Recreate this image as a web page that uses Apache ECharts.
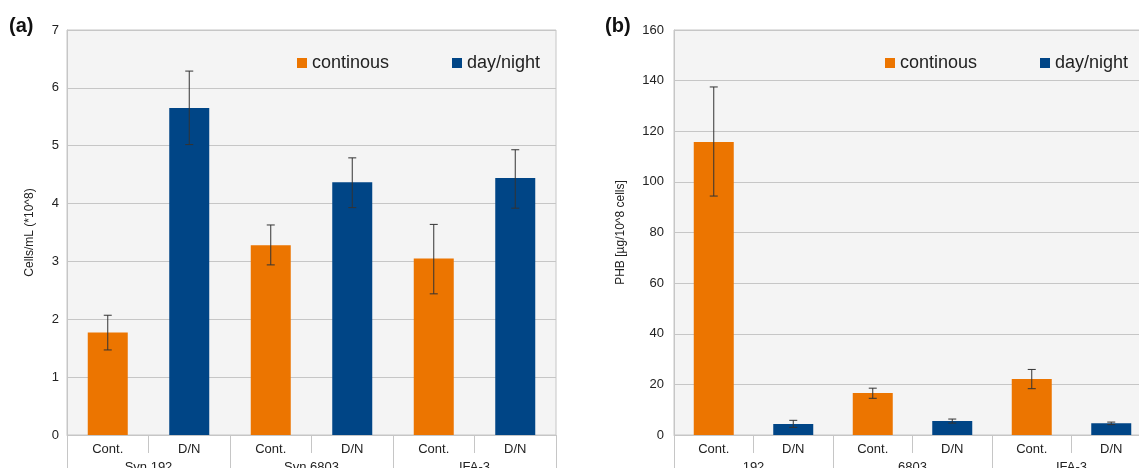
<!DOCTYPE html>
<html><head><meta charset="utf-8">
<script src="https://cdn.jsdelivr.net/npm/echarts@6/dist/echarts.min.js"></script>
<style>html,body{margin:0;padding:0;background:#fff}#c{width:1139px;height:468px}</style>
</head><body><div id="c"></div>
<script>
const innerCats = ['Cont.', 'D/N', 'Cont.', 'D/N', 'Cont.', 'D/N'];
const groupsA = ['Syn.192', 'Syn.6803', 'IFA-3'];
const groupsB = ['192', '6803', 'IFA-3'];
// chart (a) Cells/mL (*10^8)
const aCont = [1.77, null, 3.28, null, 3.05, null];
const aDN = [null, 5.65, null, 4.37, null, 4.44];
const aErrLow = [1.47, 5.02, 2.94, 3.93, 2.44, 3.92];
const aErrHigh = [2.07, 6.29, 3.63, 4.79, 3.64, 4.93];
// chart (b) PHB [µg/10^8 cells]
const bCont = [115.8, null, 16.6, null, 22.1, null];
const bDN = [null, 4.3, null, 5.5, null, 4.6];
const bErrLow = [94.4, 3.0, 14.5, 4.7, 18.3, 4.1];
const bErrHigh = [137.5, 5.8, 18.5, 6.3, 25.9, 5.1];

const ORANGE = '#ec7500', BLUE = '#004586', GRIDC = '#c6c6c6', TXT = '#222';
const FONT = 'Liberation Sans';

function errSeries(xi, yi, lo, hi) {
  return {
    type: 'custom', xAxisIndex: xi, yAxisIndex: yi, z: 10, silent: true,
    data: lo.map((l, i) => [i, l, hi[i]]),
    renderItem: function (params, api) {
      const x = api.value(0);
      const p1 = api.coord([x, api.value(1)]);
      const p2 = api.coord([x, api.value(2)]);
      const w = 4;
      const st = { stroke: '#333', lineWidth: 1 };
      return { type: 'group', children: [
        { type: 'line', shape: { x1: p1[0], y1: p1[1], x2: p2[0], y2: p2[1] }, style: st },
        { type: 'line', shape: { x1: p1[0] - w, y1: p1[1], x2: p1[0] + w, y2: p1[1] }, style: st },
        { type: 'line', shape: { x1: p2[0] - w, y1: p2[1], x2: p2[0] + w, y2: p2[1] }, style: st }
      ]};
    }
  };
}

function innerX(gi) {
  return { type: 'category', gridIndex: gi, data: innerCats, position: 'bottom',
    axisLine: { show: true, lineStyle: { color: GRIDC, width: 1 } },
    axisTick: { show: true, interval: 0, length: 18, lineStyle: { color: GRIDC } },
    axisLabel: { interval: 0, color: TXT, fontFamily: FONT, fontSize: 13, margin: 8 } };
}
function groupX(gi, groups) {
  return { type: 'category', gridIndex: gi, data: groups, position: 'bottom',
    axisLine: { show: false },
    axisTick: { show: true, interval: 0, length: 45, lineStyle: { color: GRIDC } },
    axisLabel: { interval: 0, color: TXT, fontFamily: FONT, fontSize: 13, margin: 26 } };
}
function yAx(gi, max, interval, name, gap, margin) {
  return { type: 'value', gridIndex: gi, min: 0, max: max, interval: interval,
    name: name, nameLocation: 'middle', nameRotate: 90, nameGap: gap,
    nameTextStyle: { color: TXT, fontFamily: FONT, fontSize: 12 },
    axisLine: { show: true, lineStyle: { color: GRIDC } }, axisTick: { show: false },
    axisLabel: { color: TXT, fontFamily: FONT, fontSize: 13, margin: margin },
    splitLine: { show: true, lineStyle: { color: GRIDC, width: 1 } } };
}
function bar(name, data, xi, yi, color) {
  return { type: 'bar', name: name, data: data, xAxisIndex: xi, yAxisIndex: yi,
    barWidth: 40, barGap: '-100%', itemStyle: { color: color }, silent: true };
}
function leg(name, left, color) {
  return { data: [{ name: name, itemStyle: { color: color } }], left: left, top: 54, padding: 0, icon: 'rect',
    itemWidth: 10, itemHeight: 10, itemGap: 6, selectedMode: false,
    textStyle: { color: TXT, fontFamily: FONT, fontSize: 18 } };
}

const chart = echarts.init(document.getElementById('c'), null, { renderer: 'canvas' });
chart.setOption({
  animation: false,
  backgroundColor: '#fff',
  graphic: [
    { type: 'text', left: 9, top: 16, style: { text: '(a)', font: 'bold 20px "Liberation Sans"', fill: '#111' } },
    { type: 'text', left: 605, top: 16, style: { text: '(b)', font: 'bold 20px "Liberation Sans"', fill: '#111' } }
  ],
  grid: [
    { left: 67, top: 30, width: 489, height: 405, containLabel: false, outerBoundsMode: 'none', show: true, backgroundColor: '#f4f4f4', borderColor: GRIDC, borderWidth: 1 },
    { left: 674, top: 30, width: 477, height: 405, containLabel: false, outerBoundsMode: 'none', show: true, backgroundColor: '#f4f4f4', borderColor: GRIDC, borderWidth: 1 }
  ],
  legend: [leg('continous', 297, ORANGE), leg('day/night', 452, BLUE), leg('continous', 885, ORANGE), leg('day/night', 1040, BLUE)],
  xAxis: [innerX(0), groupX(0, groupsA), innerX(1), groupX(1, groupsB)],
  yAxis: [yAx(0, 7, 1, 'Cells/mL (*10^8)', 31, 8), yAx(1, 160, 20, 'PHB [µg/10^8 cells]', 47, 10)],
  series: [
    bar('continous', aCont, 0, 0, ORANGE), bar('day/night', aDN, 0, 0, BLUE),
    errSeries(0, 0, aErrLow, aErrHigh),
    bar('continous', bCont, 2, 1, ORANGE), bar('day/night', bDN, 2, 1, BLUE),
    errSeries(2, 1, bErrLow, bErrHigh)
  ]
});
</script></body></html>
